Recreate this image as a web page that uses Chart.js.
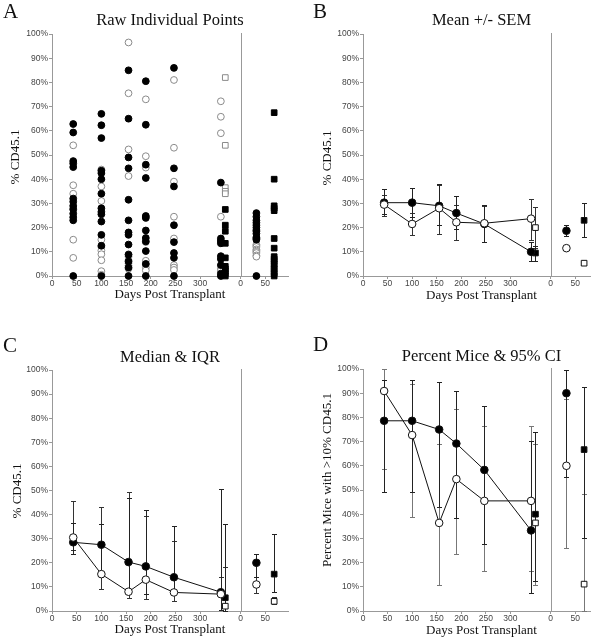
<!DOCTYPE html>
<html>
<head>
<meta charset="utf-8">
<script src="https://cdn.jsdelivr.net/npm/chart.js@4/dist/chart.umd.min.js"></script>
<style>
  body { margin: 0; background: #fff; }
  #wrap { position: relative; width: 603px; height: 640px; }
  canvas { position: absolute; }
</style>
</head>
<body>
<div id="wrap">
  <canvas id="pA" width="300" height="320" style="left:0;top:0"></canvas>
  <canvas id="pB" width="303" height="320" style="left:300px;top:0"></canvas>
  <canvas id="pC" width="300" height="320" style="left:0;top:320px"></canvas>
  <canvas id="pD" width="303" height="320" style="left:300px;top:320px"></canvas>
</div>
<script>
// second time axis (right part) starts at this x value
const RIGHT_ZERO = 382;
const leftTicks = [0, 50, 100, 150, 200, 250, 300];
const rightTicks = [0, 50];

const circleDays = [43, 100, 155, 190, 247, 342];
const squareDay = 351;
const rightCircleDay = 32;
const rightSquareDay = 68;

// A: raw individual points, one list per circle day
const rawFilled = [
  [62.8, 59.3, 47.5, 46.5, 45, 32, 30.7, 29, 27.5, 25.8, 24.3, 23, 0],
  [67, 62.3, 57, 43.5, 42.5, 40, 34, 28, 26.5, 25.5, 22.5, 17, 12.5, 0],
  [85, 65, 49, 44.5, 31.5, 23, 18, 17, 13, 8.8, 6, 3.5, 0],
  [80.5, 62.5, 46, 40.5, 24.8, 24, 18.8, 15.7, 14.3, 10.3, 5, 0],
  [86, 44.5, 37, 21, 14, 9.5, 7.5, 0],
  [38.6, 15.5, 14.5, 13.5, 8.2, 7, 4.5, 1, 0]
];
const rawOpen = [
  [54, 37.5, 34, 28, 15, 7.5],
  [44, 37, 31, 15, 12, 10.5, 9, 6.5, 2, 0.5],
  [96.5, 75.5, 52.3, 41.3, 9, 8, 6.5, 5.3, 4.3, 3],
  [73, 49.5, 44.8, 24.5, 14, 6.3, 4.8, 3.5, 2.3],
  [81, 53, 39, 24.5, 15.5, 4.5, 3.5, 2.5],
  [72.2, 65.8, 59, 24.5, 3, 2.3]
];
const rawSquareFilled = [27.5, 21, 18.5, 13.5, 7.5, 4, 3, 2, 1, 0];
const rawSquareOpen = [82, 54, 36.5, 35, 34];
const rawRightCircleFilled = [26, 24.5, 23, 22, 21, 20, 19, 18.5, 17.5, 16, 15.5, 15, 0];
const rawRightCircleOpen = [13, 12.5, 12, 11, 10.5, 10, 9.5, 8.5, 8];
const rawRightSquareFilled = [67.5, 40, 29, 28, 27, 15.5, 11.5, 8, 7, 6, 5, 3, 1, 0];
const rawRightSquareOpen = [4, 3.5, 2.5, 2, 1.5];

// B: mean +/- SEM (six circle days, then right circle)
const meanFilled   = [30.3, 30.3, 29, 26, 21.5, 10, 18.7];
const meanFilledLo = [25.5, 24.5, 21, 19.5, 14, 6, 16.5];
const meanFilledHi = [35.8, 36.2, 38, 33, 29.5, 14, 21];
const meanOpen     = [29.5, 21.5, 28, 22.2, 21.8, 23.7, 11.5];
const meanOpenLo   = [25, 17, 17.5, 15, 14, 15, 11.5];
const meanOpenHi   = [33.5, 26, 37.5, 29.5, 29, 32, 11.5];
// squares: day 351, then right square
const meanSqFilled   = [9.5, 23];
const meanSqFilledLo = [6, 16];
const meanSqFilledHi = [12.5, 30];
const meanSqOpen     = [20, 5.3];
const meanSqOpenLo   = [11.5, 4.5];
const meanSqOpenHi   = [28.5, 6];

// C: median & IQR
const medFilled   = [28.5, 27.5, 20.3, 18.5, 14, 7.8, 20];
const medFilledLo = [23.5, 14, 7.5, 7.2, 7.5, 0.5, 14];
const medFilledHi = [36.6, 36, 47, 42, 35.3, 50.7, 23.5];
const medOpen     = [30.5, 15.3, 8, 13, 7.7, 7, 11];
const medOpenLo   = [25.2, 9, 5.5, 5, 4, 0.5, 7.5];
const medOpenHi   = [45.6, 43.2, 49.5, 39.6, 29.2, 14, 14];
const medSqFilled   = [5.5, 15.3];
const medSqFilledLo = [0, 8];
const medSqFilledHi = [36, 31.8];
const medSqOpen     = [2, 4];
const medSqOpenLo   = [0, 3];
const medSqOpenHi   = [18.3, 6];

// D: percent mice with >10% CD45.1 and 95% CI
const pctFilled   = [78.6, 78.6, 75, 69.2, 58.3, 33.3, 90];
const pctFilledLo = [49.3, 49.3, 42.8, 38.6, 27.7, 7.5, 55.5];
const pctFilledHi = [95.3, 95.3, 94.5, 90.9, 84.8, 70.1, 99.7];
const pctOpen     = [90.9, 72.7, 36.4, 54.5, 45.5, 45.5, 60];
const pctOpenLo   = [58.7, 39, 10.9, 23.4, 16.7, 16.7, 26.2];
const pctOpenHi   = [99.8, 94, 69.2, 83.3, 76.6, 76.6, 87.8];
const pctSqFilled   = [40, 66.7];
const pctSqFilledLo = [12.2, 30];
const pctSqFilledHi = [73.8, 92.4];
const pctSqOpen     = [36.4, 11.1];
const pctSqOpenLo   = [10.9, 0];
const pctSqOpenHi   = [69.2, 48.2];

const rx = d => RIGHT_ZERO + d;
const pts = (xs, ys) => ys.map((y, i) => ({ x: xs[i], y }));
const cloud = (x, ys) => ys.map(y => ({ x, y }));

const SERIF = '"Liberation Serif", "Times New Roman", serif';
const SANS = '"Liberation Sans", Arial, sans-serif';

// vertical line separating the two time axes
const divider = {
  id: 'divider',
  beforeDatasetsDraw(chart) {
    const ctx = chart.ctx, a = chart.chartArea;
    const x = Math.round(chart.scales.x.getPixelForValue(RIGHT_ZERO)) + 0.5;
    ctx.save();
    ctx.strokeStyle = '#999';
    ctx.lineWidth = 1;
    ctx.beginPath();
    ctx.moveTo(x, a.top - 1);
    ctx.lineTo(x, a.bottom);
    ctx.stroke();
    ctx.restore();
  }
};

// error bars from dataset.errLo / errHi
const errorBars = {
  id: 'errorBars',
  beforeDatasetsDraw(chart) {
    const ctx = chart.ctx, ys = chart.scales.y;
    ctx.save();
    ctx.lineWidth = 1;
    chart.data.datasets.forEach((ds, i) => {
      if (!ds.errLo) return;
      ctx.strokeStyle = ds.errColor || '#222';
      chart.getDatasetMeta(i).data.forEach((pt, j) => {
        const px = Math.round(pt.x) + 0.5;
        const lo = Math.round(ys.getPixelForValue(ds.errLo[j])) + 0.5;
        const hi = Math.round(ys.getPixelForValue(ds.errHi[j])) + 0.5;
        ctx.beginPath();
        ctx.moveTo(px, lo); ctx.lineTo(px, hi);
        ctx.moveTo(px - 2.5, lo); ctx.lineTo(px + 2.5, lo);
        ctx.moveTo(px - 2.5, hi); ctx.lineTo(px + 2.5, hi);
        ctx.stroke();
      });
    });
    ctx.restore();
  }
};

// panel letter, title and axis titles
const panelText = {
  id: 'panelText',
  afterDraw(chart, args, o) {
    const ctx = chart.ctx, a = chart.chartArea;
    const cx = (a.left + a.right) / 2 + o.dx;
    ctx.save();
    ctx.fillStyle = '#111';
    ctx.textBaseline = 'middle';
    ctx.textAlign = 'left';
    ctx.font = '21px ' + SERIF;
    ctx.fillText(o.letter, o.letterX, o.letterY);
    ctx.textAlign = 'center';
    ctx.font = '16.5px ' + SERIF;
    ctx.fillText(o.title, cx, o.titleY);
    ctx.font = '13px ' + SERIF;
    ctx.fillText('Days Post Transplant', cx, o.xTitleY);
    ctx.translate(o.yTitleX, o.yTitleY);
    ctx.rotate(-Math.PI / 2);
    ctx.font = o.yTitleSize + 'px ' + SERIF;
    ctx.fillText(o.yTitle, 0, 0);
    ctx.restore();
  }
};

function makeChart(id, cfg, datasets) {
  return new Chart(document.getElementById(id), {
    type: 'scatter',
    data: { datasets },
    options: {
      responsive: false,
      animation: false,
      devicePixelRatio: 1,
      layout: { padding: { left: 0, right: cfg.W - cfg.right, top: cfg.top, bottom: 0 } },
      plugins: { legend: { display: false }, tooltip: { enabled: false }, panelText: cfg },
      scales: {
        x: {
          type: 'linear', min: 0, max: cfg.xMax,
          afterBuildTicks: s => {
            s.ticks = leftTicks.map(v => ({ value: v })).concat(rightTicks.map(v => ({ value: rx(v) })));
          },
          afterFit: s => { s.height = cfg.H - cfg.bottom; },
          ticks: {
            autoSkip: false, maxRotation: 0, padding: 0, color: '#444',
            font: { family: SANS, size: 8.5 },
            callback: v => (v >= RIGHT_ZERO ? v - RIGHT_ZERO : v)
          },
          grid: { drawOnChartArea: false, tickLength: 3, color: '#999' },
          border: { color: '#999' }
        },
        y: {
          min: 0, max: 100,
          afterFit: s => { s.width = cfg.left; },
          ticks: {
            stepSize: 10, padding: 1, color: '#444',
            font: { family: SANS, size: 8.5 },
            callback: v => v + '%'
          },
          grid: { drawOnChartArea: false, tickLength: 3, color: '#999' },
          border: { color: '#999' }
        }
      }
    },
    plugins: [divider, errorBars, panelText]
  });
}

// ---- panel A ----
const grey = '#8a8a8a';
const rawStyle = (fill, edge, shape, r) => ({
  showLine: false, clip: false, pointStyle: shape, pointRadius: r, pointBorderWidth: 1,
  pointBackgroundColor: fill, pointBorderColor: edge, backgroundColor: fill, borderColor: edge
});
makeChart('pA', {
  W: 300, H: 320, left: 52, right: 288, top: 34, bottom: 276, xMax: 478, dx: 0,
  letter: 'A', letterX: 3, letterY: 12, title: 'Raw Individual Points', titleY: 21,
  xTitleY: 295, yTitle: '% CD45.1', yTitleX: 16, yTitleY: 157, yTitleSize: 13
}, [
  Object.assign({ data: rawFilled.flatMap((v, i) => cloud(circleDays[i], v))
      .concat(cloud(rx(rightCircleDay), rawRightCircleFilled)) }, rawStyle('#000', '#000', 'circle', 3.4)),
  Object.assign({ data: cloud(squareDay, rawSquareFilled)
      .concat(cloud(rx(rightSquareDay), rawRightSquareFilled)) }, rawStyle('#000', '#000', 'rect', 4)),
  Object.assign({ data: rawOpen.flatMap((v, i) => cloud(circleDays[i], v))
      .concat(cloud(rx(rightCircleDay), rawRightCircleOpen)) }, rawStyle('#fff', grey, 'circle', 3.4)),
  Object.assign({ data: cloud(squareDay, rawSquareOpen)
      .concat(cloud(rx(rightSquareDay), rawRightSquareOpen)) }, rawStyle('#fff', grey, 'rect', 4))
]);

// ---- summary panels ----
function summary(s, openBar) {
  const mk = (fill, shape, xs, ys, lo, hi, line, bar) => ({
    data: pts(xs, ys), errLo: lo, errHi: hi, errColor: bar,
    showLine: line, clip: false, borderWidth: 1, borderColor: '#111',
    pointStyle: shape, pointRadius: shape === 'rect' ? 4 : 3.8, pointBorderWidth: 1,
    pointBackgroundColor: fill, pointBorderColor: '#111', backgroundColor: fill
  });
  const c6 = a => a.slice(0, 6);
  const cR = a => a.slice(6);
  return [
    mk('#fff', 'circle', circleDays, c6(s.co), c6(s.coLo), c6(s.coHi), true, openBar),
    mk('#fff', 'circle', [rx(rightCircleDay)], cR(s.co), cR(s.coLo), cR(s.coHi), false, openBar),
    mk('#fff', 'rect', [squareDay, rx(rightSquareDay)], s.so, s.soLo, s.soHi, false, openBar),
    mk('#000', 'circle', circleDays, c6(s.cf), c6(s.cfLo), c6(s.cfHi), true, '#222'),
    mk('#000', 'circle', [rx(rightCircleDay)], cR(s.cf), cR(s.cfLo), cR(s.cfHi), false, '#222'),
    mk('#000', 'rect', [squareDay, rx(rightSquareDay)], s.sf, s.sfLo, s.sfHi, false, '#222')
  ];
}

makeChart('pB', {
  W: 303, H: 320, left: 63, right: 290, top: 34, bottom: 276, xMax: 462, dx: 5,
  letter: 'B', letterX: 13, letterY: 12, title: 'Mean +/- SEM', titleY: 21,
  xTitleY: 296, yTitle: '% CD45.1', yTitleX: 28, yTitleY: 158, yTitleSize: 13
}, summary({
  cf: meanFilled, cfLo: meanFilledLo, cfHi: meanFilledHi,
  co: meanOpen, coLo: meanOpenLo, coHi: meanOpenHi,
  sf: meanSqFilled, sfLo: meanSqFilledLo, sfHi: meanSqFilledHi,
  so: meanSqOpen, soLo: meanSqOpenLo, soHi: meanSqOpenHi
}, '#333'));

makeChart('pC', {
  W: 300, H: 320, left: 52, right: 288, top: 50, bottom: 291, xMax: 478, dx: 0,
  letter: 'C', letterX: 3, letterY: 26, title: 'Median & IQR', titleY: 38,
  xTitleY: 310, yTitle: '% CD45.1', yTitleX: 18, yTitleY: 171, yTitleSize: 13
}, summary({
  cf: medFilled, cfLo: medFilledLo, cfHi: medFilledHi,
  co: medOpen, coLo: medOpenLo, coHi: medOpenHi,
  sf: medSqFilled, sfLo: medSqFilledLo, sfHi: medSqFilledHi,
  so: medSqOpen, soLo: medSqOpenLo, soHi: medSqOpenHi
}, '#333'));

makeChart('pD', {
  W: 303, H: 320, left: 63, right: 290, top: 49, bottom: 291, xMax: 462, dx: 5,
  letter: 'D', letterX: 13, letterY: 25, title: 'Percent Mice & 95% CI', titleY: 37,
  xTitleY: 311, yTitle: 'Percent Mice with >10% CD45.1', yTitleX: 28, yTitleY: 160, yTitleSize: 13
}, summary({
  cf: pctFilled, cfLo: pctFilledLo, cfHi: pctFilledHi,
  co: pctOpen, coLo: pctOpenLo, coHi: pctOpenHi,
  sf: pctSqFilled, sfLo: pctSqFilledLo, sfHi: pctSqFilledHi,
  so: pctSqOpen, soLo: pctSqOpenLo, soHi: pctSqOpenHi
}, '#777'));
</script>
</body>
</html>
